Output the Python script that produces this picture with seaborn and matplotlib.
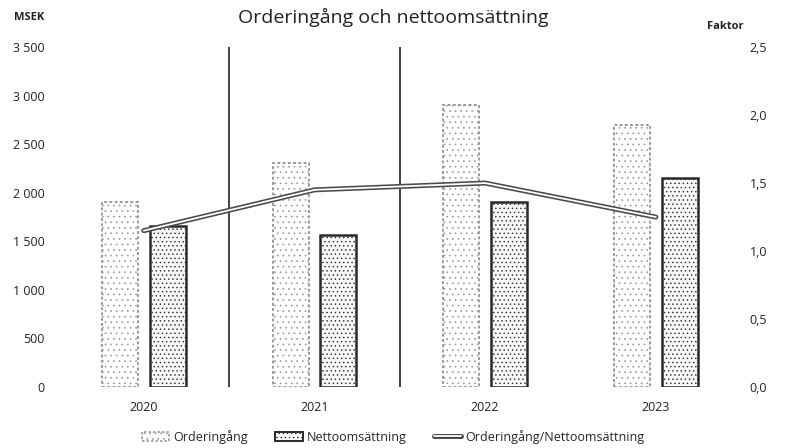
import numpy as np
import pandas as pd
import matplotlib
matplotlib.use("Agg")
import matplotlib.pyplot as plt
from matplotlib.patches import Patch
from matplotlib.lines import Line2D
from matplotlib.ticker import FuncFormatter
import matplotlib.patheffects as pe
import seaborn as sns

years = ["2020", "2021", "2022", "2023"]
orderingang = [1900, 2310, 2900, 2700]
nettoomsattning = [1660, 1570, 1900, 2150]
faktor = [1.15, 1.45, 1.50, 1.25]
series_names = ["Orderingång", "Nettoomsättning"]
line_name = "Orderingång/Nettoomsättning"
left_ticks = [0, 500, 1000, 1500, 2000, 2500, 3000, 3500]
right_ticks = [0.0, 0.5, 1.0, 1.5, 2.0, 2.5]

sns.set_theme(style="white")
plt.rcParams["font.family"] = ["Open Sans", "DejaVu Sans"]
plt.rcParams["hatch.linewidth"] = 0.5

df = pd.DataFrame({
    "År": years * 2,
    "MSEK": orderingang + nettoomsattning,
    "Serie": [series_names[0]] * 4 + [series_names[1]] * 4,
})

fig = plt.figure(figsize=(7.86, 4.48), dpi=100)
ax = fig.add_axes([0.0744, 0.136, 0.8686, 0.759])

sns.barplot(data=df, x="År", y="MSEK", hue="Serie", hue_order=series_names,
            palette=["white", "white"], width=0.56, gap=0.25, ax=ax,
            legend=False, linewidth=1.2)

styles = [dict(edgecolor="#9a9a9a", face="white", hatch="...", linestyle=(0, (1.5, 1.2)), lw=1.4),
          dict(edgecolor="#2a2a2a", face="#f7f7f7", hatch="....", linestyle="-", lw=1.8)]
for cont, st in zip(ax.containers, styles):
    for bar in cont:
        bar.set_facecolor(st["face"])
        bar.set_edgecolor(st["edgecolor"])
        bar.set_hatch(st["hatch"])
        bar.set_linestyle(st["linestyle"])
        bar.set_linewidth(st["lw"])

for i in range(len(years) - 2):
    ax.axvline(i + 0.5, color="#222222", lw=1.2, ymax=1.0)

ax.set_xlim(-0.5, len(years) - 0.5)
ax.set_ylim(0, 3500)
ax.set_yticks(left_ticks)
ax.yaxis.set_major_formatter(FuncFormatter(lambda v, p: f"{int(v):,}".replace(",", " ")))
ax.set_xlabel("")
ax.set_ylabel("")
ax.tick_params(axis="both", length=0, labelsize=9, colors="#222222")
ax.tick_params(axis="x", pad=10)
ax.tick_params(axis="y", pad=10)
for s in ax.spines.values():
    s.set_visible(False)

ax2 = ax.twinx()
line_df = pd.DataFrame({"x": np.arange(len(years)), "Faktor": faktor})
sns.lineplot(data=line_df, x="x", y="Faktor", ax=ax2, color="#4a4a4a", lw=3.6,
             legend=False)
sns.lineplot(data=line_df, x="x", y="Faktor", ax=ax2, color="white", lw=1.3,
             legend=False)
ax2.set_ylim(0, 2.5)
ax2.set_yticks(right_ticks)
ax2.yaxis.set_major_formatter(FuncFormatter(lambda v, p: f"{v:.1f}".replace(".", ",")))
ax2.set_ylabel("")
ax2.set_xlabel("")
ax2.tick_params(axis="y", length=0, labelsize=9, colors="#222222", pad=6)
for s in ax2.spines.values():
    s.set_visible(False)
ax.set_xlim(-0.5, len(years) - 0.5)

fig.text(0.5, 0.96, "Orderingång och nettoomsättning", ha="center", va="center",
         fontsize=14, color="#222222")
fig.text(0.018, 0.96, "MSEK", ha="left", va="center", fontsize=8,
         fontweight="bold", color="#222222")
fig.text(0.9, 0.94, "Faktor", ha="left", va="center", fontsize=8,
         fontweight="bold", color="#222222")

handles = [
    Patch(facecolor="white", edgecolor=styles[0]["edgecolor"], hatch="...",
          linestyle=(0, (1.5, 1.2)), lw=1.2),
    Patch(facecolor="#f7f7f7", edgecolor=styles[1]["edgecolor"], hatch="....", lw=1.4),
    Line2D([0], [0], color="#4a4a4a", lw=3.6,
           path_effects=[pe.Stroke(linewidth=3.6, foreground="#4a4a4a"),
                         pe.Stroke(linewidth=1.3, foreground="white")]),
]
fig.legend(handles, series_names + [line_name], loc="center", ncol=3,
           bbox_to_anchor=(0.5, 0.025), frameon=False, fontsize=9,
           handlelength=2.2, handletextpad=0.3, columnspacing=2.2)

fig.savefig("out.png", dpi=100)
